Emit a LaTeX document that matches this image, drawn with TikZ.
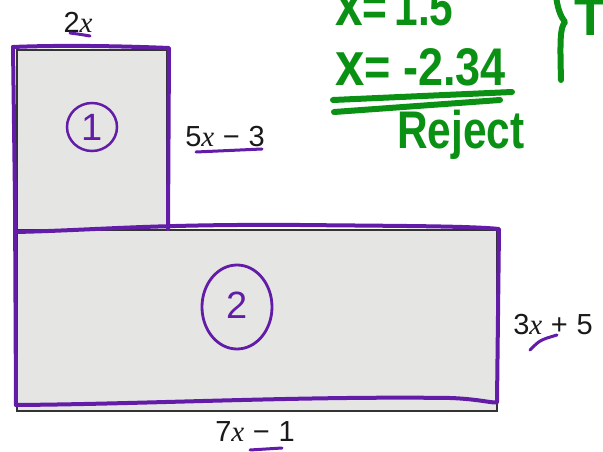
\documentclass[tikz,border=0pt]{standalone}
\usepackage{fontspec}
\setmainfont{Liberation Sans}
\newfontfamily\xfont{Liberation Serif}
\definecolor{pen}{RGB}{98,28,168}
\definecolor{grn}{RGB}{10,145,20}
\definecolor{paper}{RGB}{229,229,227}
\newcommand{\vx}{{\xfont\itshape x}}
\newcommand{\hx}{{\fontsize{62}{62}\selectfont x}}
\begin{document}
\begin{tikzpicture}[x=1pt,y=-1pt,
  lbl/.style={inner sep=0pt, font=\fontsize{29}{31}\selectfont, text=black!90},
  penline/.style={draw=pen, line width=4pt, line cap=round, line join=round},
  thinpen/.style={draw=pen, line width=3pt, line cap=round},
  grnline/.style={draw=grn, line width=6pt, line cap=round, line join=round},
  hand/.style={inner sep=0pt, text=grn, font=\fontsize{53}{56}\selectfont\bfseries},
  circled/.style={inner sep=0pt, text=pen, font=\fontsize{38}{40}\selectfont}]
\useasboundingbox[fill=white] (0,0) rectangle (603,452);
% printed figure
\draw[fill=paper, draw=black!80, line width=2.5pt] (17,50) rectangle (167,230);
\draw[fill=paper, draw=black!80, line width=2.5pt] (17,230) rectangle (497,411);
% purple outlines
\draw[penline] (13,47) .. controls (60,45) and (120,46) .. (169,48) -- (168,229);
\draw[penline] (13,47) -- (15,200) -- (16,405);
\draw[penline] (16,232) .. controls (100,230) and (150,224) .. (300,225) .. controls (400,226) and (470,226) .. (499,229) -- (497,402);
\draw[penline] (16,405) .. controls (150,404) and (300,396) .. (450,398) .. controls (480,399) and (495,404) .. (497,402);
% circled numbers
\draw[pen, line width=2.5pt] (92,127) ellipse (25 and 24);
\node[circled] (one) at (92,127) {1};
\draw[pen, line width=2.8pt] (237,307) ellipse (35 and 42);
\node[circled] (two) at (237,305) {2};
% labels
\node[lbl] (w1) at (78,22) {2\vx};
\draw[thinpen] (70,33) .. controls (78,34) .. (90,36);
\node[lbl] (h1) at (225,137) {5\vx\hspace{.3em}−\hspace{.3em}3};
\draw[thinpen] (196,152) -- (262,149);
\node[lbl] (h2) at (553,325) {3\vx\hspace{.3em}+\hspace{.3em}5};
\draw[thinpen] (530,350) .. controls (540,340) .. (557,335);
\node[lbl] (w2) at (255,432) {7\vx\hspace{.3em}−\hspace{.3em}1};
\draw[thinpen] (250,450) -- (282,448);
% green handwriting
\node[hand, anchor=base west] (s1) at (335,26) {\scalebox{0.8}[1]{\hx=\,1.5}};
\node[hand, anchor=base west] (s2) at (335,85) {\scalebox{0.85}[1]{\hx=\ -2.34}};
\draw[grnline] (333,100) -- (512,92);
\draw[grnline] (334,112) -- (500,100);
\node[hand, anchor=base west] (rj) at (397,148) {\scalebox{0.8}[1]{Reject}};
\draw[grnline] (556,-4) .. controls (558,12) and (562,18) .. (565,22) .. controls (560,28) and (560,40) .. (561,80);
\node[hand, anchor=base west] (to) at (574,36) {To};
\end{tikzpicture}
\end{document}
